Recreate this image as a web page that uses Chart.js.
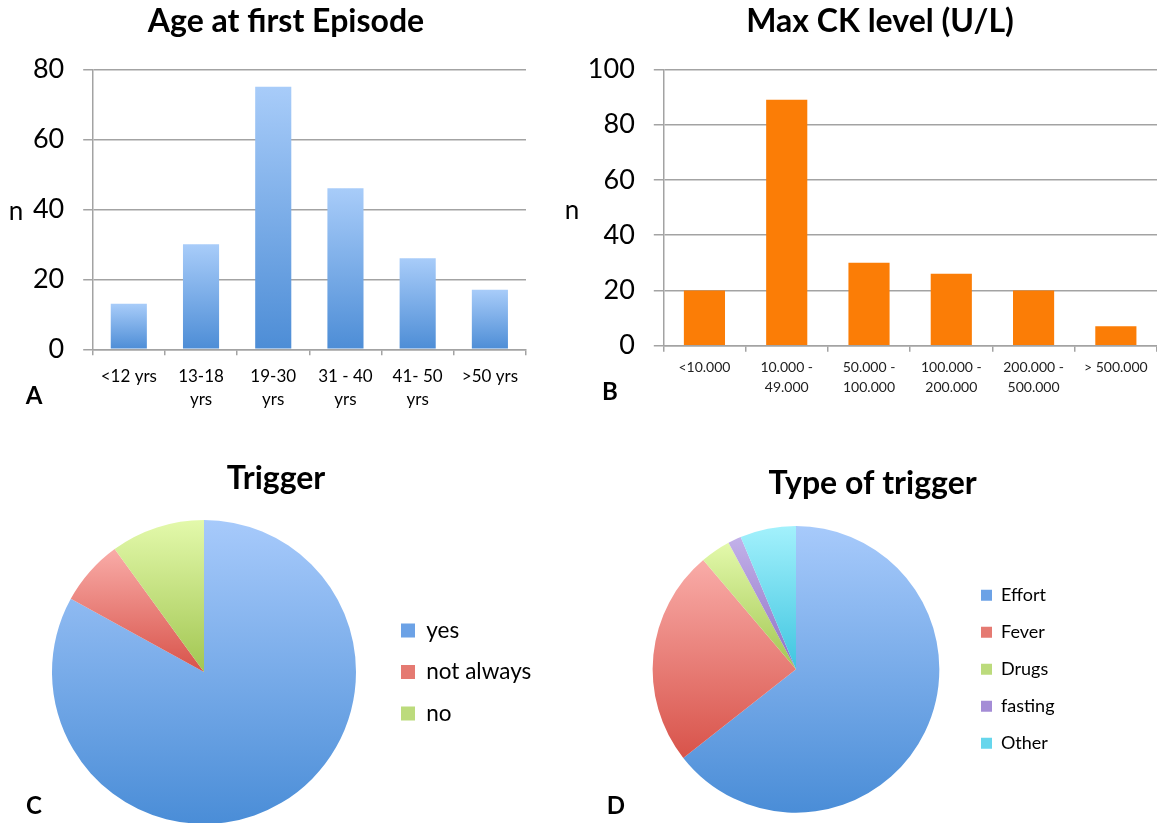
<!DOCTYPE html>
<html>
<head>
<meta charset="utf-8">
<script src="https://cdn.jsdelivr.net/npm/chart.js@4/dist/chart.umd.min.js"></script>
<style>
  html, body { margin: 0; padding: 0; background: #fff; overflow: hidden; width: 1157px; height: 823px; }
  canvas { position: absolute; }
</style>
</head>
<body>
<canvas id="age"  style="left:0px;   top:0px"   width="560" height="425"></canvas>
<canvas id="ck"   style="left:560px; top:0px"   width="597" height="425"></canvas>
<canvas id="trig" style="left:0px;   top:450px" width="560" height="380"></canvas>
<canvas id="type" style="left:580px; top:450px" width="577" height="380"></canvas>
<script>
// ---- data ----
const ageLabels = ['<12 yrs', ['13-18', 'yrs'], ['19-30', 'yrs'], ['31 - 40', 'yrs'], ['41- 50', 'yrs'], '>50 yrs'];
const ageCounts = [13, 30, 75, 46, 26, 17];
const ageMax = 80;

const ckLabels = ['<10.000', ['10.000 -', '49.000'], ['50.000 -', '100.000'], ['100.000 -', '200.000'], ['200.000 -', '500.000'], '> 500.000'];
const ckCounts = [20, 89, 30, 26, 20, 7];
const ckMax = 100;

const triggerLabels = ['yes', 'not always', 'no'];
const triggerShares = [83, 7, 10];

const typeLabels = ['Effort', 'Fever', 'Drugs', 'fasting', 'Other'];
const typeShares = [64.4, 24.4, 3.4, 1.5, 6.3];

// ---- styling ----
const FONT = 'Lato, "Open Sans", sans-serif';
const GRID = '#a3a3a3';
const sliceTop    = ['#a7cafb', '#f9aca8', '#e3f9ab', '#c2b1e9', '#a3f1fc'];
const sliceBottom = ['#4a8dd7', '#d8534a', '#a2c652', '#8f70c4', '#3fc5e0'];
const keyColors   = ['#6ca2e6', '#e57a72', '#bcdb7c', '#a48cd6', '#66d6ec'];

Chart.defaults.font.family = FONT;
Chart.defaults.color = '#000';
Chart.defaults.animation = false;

// centre the chart title on a given x position
function titleAt(x) {
  return { id: 'titleAt', afterLayout(chart) {
    const t = chart.titleBlock;
    if (t) { t.left = x - 400; t.right = x + 400; }
  } };
}
// extra captions (axis letter, panel letter)
function captions(items) {
  return { id: 'captions', afterDraw(chart) {
    const c = chart.ctx;
    c.save();
    c.fillStyle = '#000';
    c.textAlign = 'center';
    c.textBaseline = 'middle';
    items.forEach(it => { c.font = it.font; c.fillText(it.text, it.x, it.y); });
    c.restore();
  } };
}

// vertical gradient for each bar, light at the top, darker at the base
function barFill(light, dark) {
  return ctx => {
    const chart = ctx.chart, y = chart.scales && chart.scales.y;
    if (ctx.type !== 'data' || !y) return dark;
    const top = y.getPixelForValue(ctx.raw), base = y.getPixelForValue(0);
    if (!isFinite(top) || !isFinite(base) || top >= base) return dark;
    const g = chart.ctx.createLinearGradient(0, top, 0, base);
    g.addColorStop(0, light);
    g.addColorStop(1, dark);
    return g;
  };
}

// vertical gradient spanning each slice's own height
function sliceFill(tops, bottoms) {
  return ctx => {
    const i = ctx.dataIndex, chart = ctx.chart, area = chart.chartArea;
    if (ctx.type !== 'data' || !area) return bottoms[i] || bottoms[0];
    const vals = ctx.dataset.data;
    const total = vals.reduce((a, b) => a + b, 0);
    let before = 0;
    for (let k = 0; k < i; k++) before += vals[k];
    const a0 = -Math.PI / 2 + 2 * Math.PI * before / total;
    const a1 = a0 + 2 * Math.PI * vals[i] / total;
    const cx = (area.left + area.right) / 2, cy = (area.top + area.bottom) / 2;
    const r = Math.min(area.width, area.height) / 2;
    const ys = [cy, cy + r * Math.sin(a0), cy + r * Math.sin(a1)];
    if (a0 <= Math.PI / 2 && a1 >= Math.PI / 2) ys.push(cy + r);
    const y0 = Math.min(...ys), y1 = Math.max(...ys);
    if (y1 - y0 < 1) return bottoms[i];
    const g = chart.ctx.createLinearGradient(0, y0, 0, y1);
    g.addColorStop(0, tops[i]);
    g.addColorStop(1, bottoms[i]);
    return g;
  };
}

function titleOpts(text, top, bottom) {
  return { display: true, text, color: '#000',
           font: { size: 32, weight: 'bold', lineHeight: 1.2 },
           padding: { top, bottom } };
}

function barChart(id, labels, values, o) {
  return new Chart(document.getElementById(id), {
    type: 'bar',
    data: { labels, datasets: [{ data: values, backgroundColor: o.fill, borderWidth: 0,
                                 barPercentage: 0.5, categoryPercentage: 1 }] },
    options: {
      responsive: false, animation: false,
      layout: { padding: { left: 0, right: o.padRight, top: 0, bottom: 0 } },
      plugins: {
        legend: { display: false }, tooltip: { enabled: false },
        title: titleOpts(o.title, 2.8, 28.1)
      },
      scales: {
        x: {
          grid: { display: true, drawOnChartArea: false, drawTicks: true, tickLength: 6,
                  color: GRID, lineWidth: 1.5, offset: true },
          border: { display: true, color: GRID, width: 1.5 },
          ticks: { font: { size: o.xFont, lineHeight: 1.4 }, color: o.xColor, padding: o.xPad,
                   maxRotation: 0, minRotation: 0, autoSkip: false },
          afterFit: s => { s.height = o.xHeight; }
        },
        y: {
          min: 0, max: o.yMax,
          ticks: { stepSize: 20, font: { size: 27 }, color: '#000', padding: 19 },
          grid: { color: GRID, lineWidth: 1.5, tickLength: 9.5 },
          border: { display: true, color: GRID, width: 1.5 },
          afterFit: s => { s.width = o.yWidth; }
        }
      }
    },
    plugins: [titleAt(o.titleX), captions(o.captions)]
  });
}

function legendWidth(labels, size, box, pad) {
  const c = document.createElement('canvas').getContext('2d');
  c.font = 'normal ' + size + 'px ' + FONT;
  const w = Math.max(...labels.map(l => c.measureText(l).width));
  return pad + box + size / 2 + w + 10;
}

function pieChart(id, labels, values, o) {
  const canvas = document.getElementById(id);
  const lw = legendWidth(labels, o.keyFont, o.box, 19);
  const padRight = Math.max(canvas.width - o.areaRight - lw, 0);
  const baseLabels = (Chart.overrides.pie && Chart.overrides.pie.plugins && Chart.overrides.pie.plugins.legend
                      && Chart.overrides.pie.plugins.legend.labels.generateLabels)
                     || Chart.overrides.doughnut.plugins.legend.labels.generateLabels;
  return new Chart(canvas, {
    type: 'pie',
    data: { labels, datasets: [{ data: values, backgroundColor: sliceFill(sliceTop, sliceBottom),
                                 borderWidth: 0, hoverOffset: 0 }] },
    options: {
      responsive: false, animation: false,
      layout: { padding: { left: o.padLeft, right: padRight, top: 0, bottom: o.padBottom } },
      plugins: {
        tooltip: { enabled: false },
        title: titleOpts(o.title, o.titleTop, o.titleBottom),
        legend: {
          position: 'right', align: 'center', fullSize: false,
          labels: {
            font: { size: o.keyFont }, color: '#000', boxWidth: o.box, boxHeight: o.box, padding: 19,
            generateLabels: chart => baseLabels(chart).map((it, i) =>
              Object.assign(it, { fillStyle: keyColors[i], strokeStyle: keyColors[i], lineWidth: 0 }))
          }
        }
      }
    },
    plugins: [titleAt(o.titleX), captions(o.captions)]
  });
}

barChart('age', ageLabels, ageCounts, {
  title: 'Age at first Episode', titleX: 286, yMax: ageMax,
  fill: barFill('#a8ccf9', '#4d8dd6'),
  padRight: 34, yWidth: 92.7, xHeight: 75.7, xFont: 17, xPad: 9, xColor: '#000',
  captions: [ { text: 'n', x: 16, y: 212, font: '26px ' + FONT },
              { text: 'A', x: 34, y: 396, font: 'bold 24px ' + FONT } ]
});

barChart('ck', ckLabels, ckCounts, {
  title: 'Max CK level (U/L)', titleX: 320, yMax: ckMax,
  fill: '#fb7d06',
  padRight: 0, yWidth: 103.3, xHeight: 79.3, xFont: 14, xPad: 6, xColor: '#222',
  captions: [ { text: 'n', x: 12, y: 211, font: '26px ' + FONT },
              { text: 'B', x: 50, y: 392, font: 'bold 24px ' + FONT } ]
});

pieChart('trig', triggerLabels, triggerShares, {
  title: 'Trigger', titleX: 276, titleTop: 9.8, titleBottom: 21.8,
  padLeft: 26, padBottom: 6, areaRight: 382, keyFont: 22.5, box: 14,
  captions: [ { text: 'C', x: 34, y: 356, font: 'bold 24px ' + FONT } ]
});

pieChart('type', typeLabels, typeShares, {
  title: 'Type of trigger', titleX: 292.6, titleTop: 14.8, titleBottom: 22.8,
  padLeft: 50, padBottom: 17.3, areaRight: 382, keyFont: 18, box: 11,
  captions: [ { text: 'D', x: 36, y: 356, font: 'bold 24px ' + FONT } ]
});
</script>
</body>
</html>
